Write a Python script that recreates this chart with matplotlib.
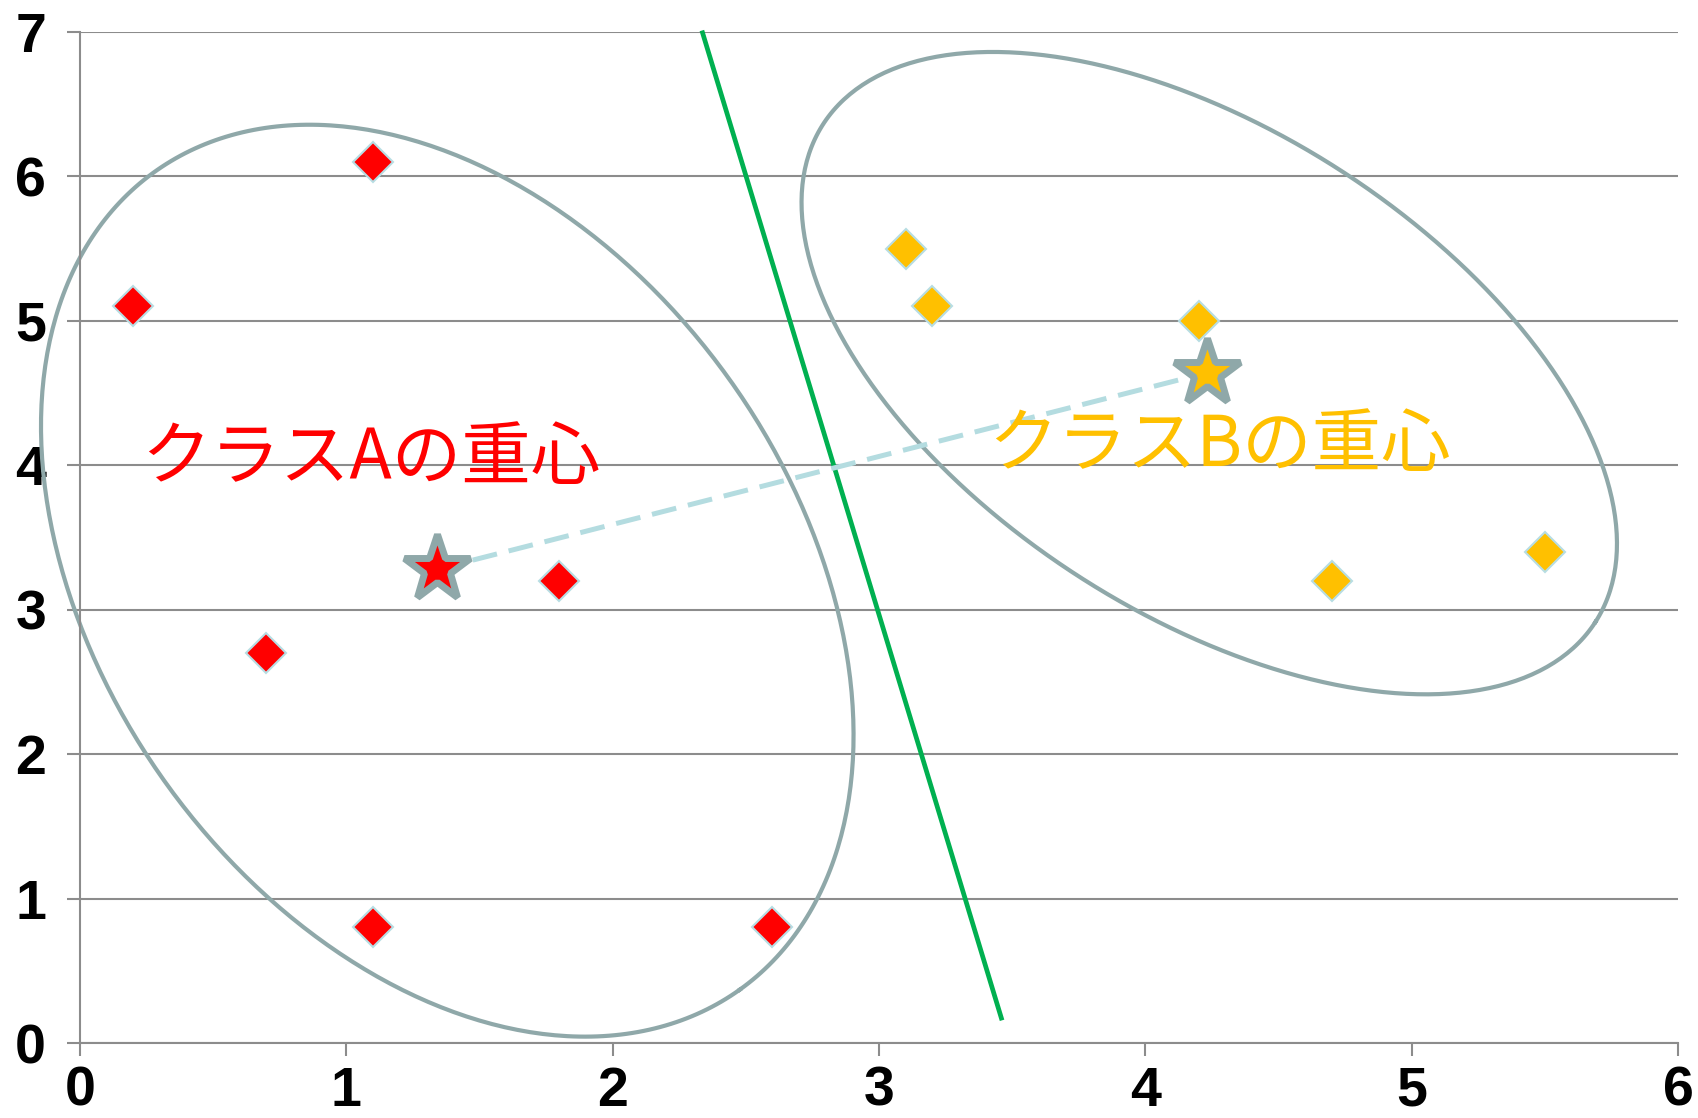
import numpy as np
import matplotlib
matplotlib.use("Agg")
import matplotlib.pyplot as plt

# Class A / class B sample points
class_a_x = [0.2, 1.1, 0.7, 1.8, 1.1, 2.6]
class_a_y = [5.1, 6.1, 2.7, 3.2, 0.8, 0.8]
class_b_x = [3.1, 3.2, 4.2, 4.7, 5.5]
class_b_y = [5.5, 5.1, 5.0, 3.2, 3.4]

# Centroids of each class
centroid_a = (1.34, 3.28)
centroid_b = (4.23, 4.64)

# Separating boundary line (end points)
boundary_x = [2.335, 3.462]
boundary_y = [7.01, 0.157]

# Cluster outlines: centre and two conjugate half-axis vectors (data units)
ellipse_a = dict(center=(1.379, 3.201), u=(1.098, -2.832), v=(-1.059, -1.395))
ellipse_b = dict(center=(4.240, 4.638), u=(1.450, -1.723), v=(-0.491, -1.406))

x_ticks = [0, 1, 2, 3, 4, 5, 6]
y_ticks = [0, 1, 2, 3, 4, 5, 6, 7]

label_a = "クラスAの重心"
label_b = "クラスBの重心"

RED = "#FF0000"
GOLD = "#FFC000"
GREEN = "#00B050"
GRID = "#8C8C8C"
OUTLINE = "#8FA8A9"
DIAMOND_EDGE = "#B7DDE3"
DASH = "#B4DCE0"

fig = plt.figure(figsize=(16.98, 11.18), dpi=100)
ax = fig.add_axes([80 / 1698, 1 - 1043 / 1118, 1598 / 1698, 1011 / 1118])

ax.set_xlim(0, 6)
ax.set_ylim(0, 7)
ax.set_xticks(x_ticks)
ax.set_yticks(y_ticks)
ax.set_xticklabels([str(t) for t in x_ticks])
ax.set_yticklabels([str(t) for t in y_ticks])

for s in ("top", "right"):
    ax.spines[s].set_visible(False)
for s in ("left", "bottom"):
    ax.spines[s].set_color(GRID)
    ax.spines[s].set_linewidth(1.5)

ax.yaxis.grid(True, color=GRID, linewidth=1.5)
ax.set_axisbelow(True)
ax.tick_params(axis="both", color=GRID, length=9.4, width=1.5)
ax.tick_params(axis="y", pad=15)
ax.tick_params(axis="x", pad=7)
for lab in ax.get_xticklabels() + ax.get_yticklabels():
    lab.set_fontfamily("Liberation Sans")
    lab.set_fontweight("bold")
    lab.set_fontsize(40)

# Cluster outlines
t = np.linspace(0, 2 * np.pi, 400)
for e in (ellipse_a, ellipse_b):
    cx, cy = e["center"]
    ux, uy = e["u"]
    vx, vy = e["v"]
    ax.plot(cx + ux * np.cos(t) + vx * np.sin(t),
            cy + uy * np.cos(t) + vy * np.sin(t),
            color=OUTLINE, linewidth=3.0, clip_on=False, zorder=2)

# Boundary line
ax.plot(boundary_x, boundary_y, color=GREEN, linewidth=3.4,
        solid_capstyle="butt", clip_on=False, zorder=3)

# Sample points
ax.plot(class_a_x, class_a_y, linestyle="none", marker="D", markersize=20,
        markerfacecolor=RED, markeredgecolor=DIAMOND_EDGE, markeredgewidth=1.5,
        zorder=4)
ax.plot(class_b_x, class_b_y, linestyle="none", marker="D", markersize=20,
        markerfacecolor=GOLD, markeredgecolor=DIAMOND_EDGE, markeredgewidth=1.5,
        zorder=4)

# Link between centroids
ax.plot([centroid_a[0], centroid_b[0]], [centroid_a[1], centroid_b[1]],
        color=DASH, linewidth=3.6, dashes=(5, 2.4), zorder=5)

# Centroid stars
ax.plot([centroid_a[0]], [centroid_a[1]], marker="*", markersize=50,
        markerfacecolor=RED, markeredgecolor=OUTLINE, markeredgewidth=5,
        linestyle="none", zorder=6)
ax.plot([centroid_b[0]], [centroid_b[1]], marker="*", markersize=50,
        markerfacecolor=GOLD, markeredgecolor=OUTLINE, markeredgewidth=5,
        linestyle="none", zorder=6)

# Labels
ax.text(0.23, 4.04, label_a, color=RED, fontsize=50,
        family=["Noto Sans CJK JP", "DejaVu Sans"], ha="left", va="center",
        zorder=7)
ax.text(3.41, 4.13, label_b, color=GOLD, fontsize=50,
        family=["Noto Sans CJK JP", "DejaVu Sans"], ha="left", va="center",
        zorder=7)

fig.savefig("out.png", dpi=100, facecolor="white")
